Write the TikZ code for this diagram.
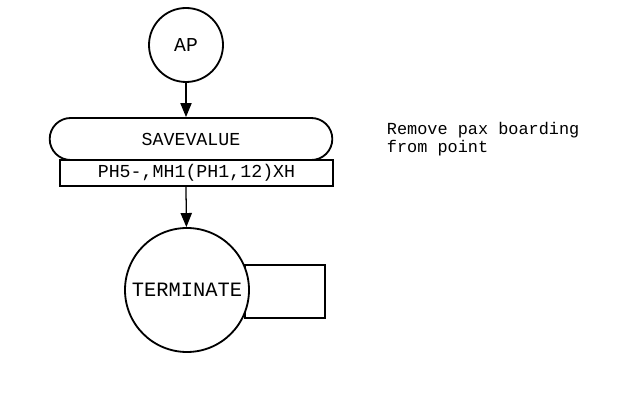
\documentclass[tikz,border=0pt]{standalone}
\usepackage{fontspec}
\setmonofont{Liberation Mono}
\usetikzlibrary{arrows.meta,shapes.misc}
\begin{document}
\begin{tikzpicture}[every node/.style={font=\ttfamily\fontsize{12}{13}\selectfont},
  gpss/.style={circle, draw, line width=1.3pt, fill=white, inner sep=0pt},
  block/.style={rounded rectangle, draw, line width=1.3pt, minimum width=7.3cm, minimum height=1.05cm},
  operand/.style={rectangle, draw, line width=1.3pt, minimum width=6.825cm, minimum height=0.65cm, inner sep=0pt},
  flow/.style={line width=0.9pt, -{Triangle[width=8pt,length=10pt]}}]
  \useasboundingbox (0,0) rectangle (15.775,10.375);
  % Chain:  AP -> SAVEVALUE -> TERMINATE
  \node[gpss, minimum size=1.85cm, font=\ttfamily\fontsize{14}{15}\selectfont] (ap) at (4.65,9.25) {AP};
  \node[block, font=\ttfamily\fontsize{13}{14}\selectfont] (save) at (4.775,6.9) {SAVEVALUE};
  \node[operand, font=\ttfamily\fontsize{13}{14}\selectfont] (args) at (4.9125,6.05) {PH5-,MH1(PH1,12)XH};
  \node[rectangle, draw, line width=1.3pt, minimum width=2.0cm, minimum height=1.325cm] (count) at (7.125,3.0875) {};
  \node[gpss, minimum size=3.1cm, font=\ttfamily\fontsize{14.5}{15}\selectfont] (term) at (4.675,3.125) {TERMINATE};
  \draw[flow] (ap) -- (ap |- save.north);
  \draw[flow] (ap |- args.south) -- (term);
  % Comment beside the block
  \node[anchor=west, align=left] (note) at (9.55,6.9) {Remove pax boarding\\from point};
\end{tikzpicture}
\end{document}
